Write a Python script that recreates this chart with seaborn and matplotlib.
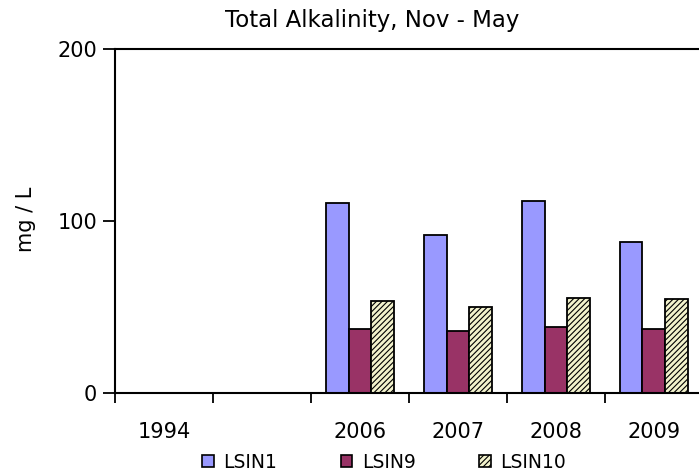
import matplotlib
matplotlib.use("Agg")
import matplotlib.pyplot as plt
import seaborn as sns
import pandas as pd
import numpy as np
from matplotlib.patches import Patch

sns.set_style("white")
plt.rcParams['font.family'] = ['DejaVu Sans']
plt.rcParams['hatch.color'] = '#8C8C6E'
plt.rcParams['hatch.linewidth'] = 0.8
plt.rcParams['text.color'] = 'black'
plt.rcParams['xtick.color'] = 'black'
plt.rcParams['ytick.color'] = 'black'
plt.rcParams['xtick.labelcolor'] = 'black'
plt.rcParams['ytick.labelcolor'] = 'black'

years = ["1994", " ", "2006", "2007", "2008", "2009"]
series = ["LSIN1", "LSIN9", "LSIN10"]
lsin1 = [np.nan, np.nan, 110.5, 92.0, 111.5, 88.0]
lsin9 = [np.nan, np.nan, 37.0, 36.0, 38.5, 37.0]
lsin10 = [np.nan, np.nan, 53.5, 50.0, 55.5, 54.5]
colors = ["#9999FF", "#993366", "#F2F2CC"]

df = pd.DataFrame({
    "year": years * 3,
    "series": [s for s in series for _ in years],
    "value": lsin1 + lsin9 + lsin10,
})

fig = plt.figure(figsize=(6.99, 4.73), dpi=100)
ax = fig.add_axes([115/699, 1-393/473, (699-115)/699, (393-49)/473])

sns.barplot(data=df, x="year", y="value", hue="series", order=years,
            hue_order=series, palette=colors, width=0.7, saturation=1,
            edgecolor="black", linewidth=1.3, ax=ax, legend=False)

for cont, s in zip(ax.containers, series):
    if s == "LSIN10":
        for p in cont.patches:
            p.set_hatch("//////")

ax.set_xlim(-0.5, 5.46)
ax.set_ylim(0, 200)
ax.set_yticks([0, 100, 200])
ax.set_xlabel("")
ax.set_ylabel("")

for side in ["right", "bottom"]:
    ax.spines[side].set_visible(False)
ax.spines["left"].set_linewidth(1.5)
ax.spines["top"].set_linewidth(1.5)
ax.spines["left"].set_color("black")
ax.spines["top"].set_color("black")
ax.axhline(0, color="black", linewidth=1.5, zorder=5, clip_on=False)

ax.set_xticks(range(len(years)))
ax.set_xticklabels(years)
ax.set_xticks(np.arange(-0.5, 5.5, 1.0), minor=True)
ax.tick_params(axis="x", which="major", length=0, pad=21, labelsize=15, labelcolor="black")
ax.tick_params(axis="x", which="minor", length=7, width=1.3, color="black", direction="out", bottom=True)
ax.tick_params(axis="y", which="major", length=9, width=1.3, color="black", direction="out", left=True, labelsize=15, pad=4, labelcolor="black")

fig.text(372/699, 1-27/473, "Total Alkalinity, Nov - May", ha="center", va="baseline", fontsize=16.5, color="black")
fig.text(26/699, 1-219/473, "mg / L", ha="center", va="center", rotation=90, fontsize=15, color="black")

handles = [Patch(facecolor=colors[0], edgecolor="black", linewidth=1.2),
           Patch(facecolor=colors[1], edgecolor="black", linewidth=1.2),
           Patch(facecolor=colors[2], edgecolor="black", linewidth=1.2, hatch="//////")]
leg = fig.legend(handles, series, loc="center", bbox_to_anchor=(384/699, 1-462/473), ncol=3,
                 frameon=False, fontsize=13.5, handlelength=0.62, handleheight=0.62,
                 handletextpad=0.5, columnspacing=3.4, borderpad=0)
for t in leg.get_texts():
    t.set_color("black")

fig.savefig("out.png", dpi=100)
